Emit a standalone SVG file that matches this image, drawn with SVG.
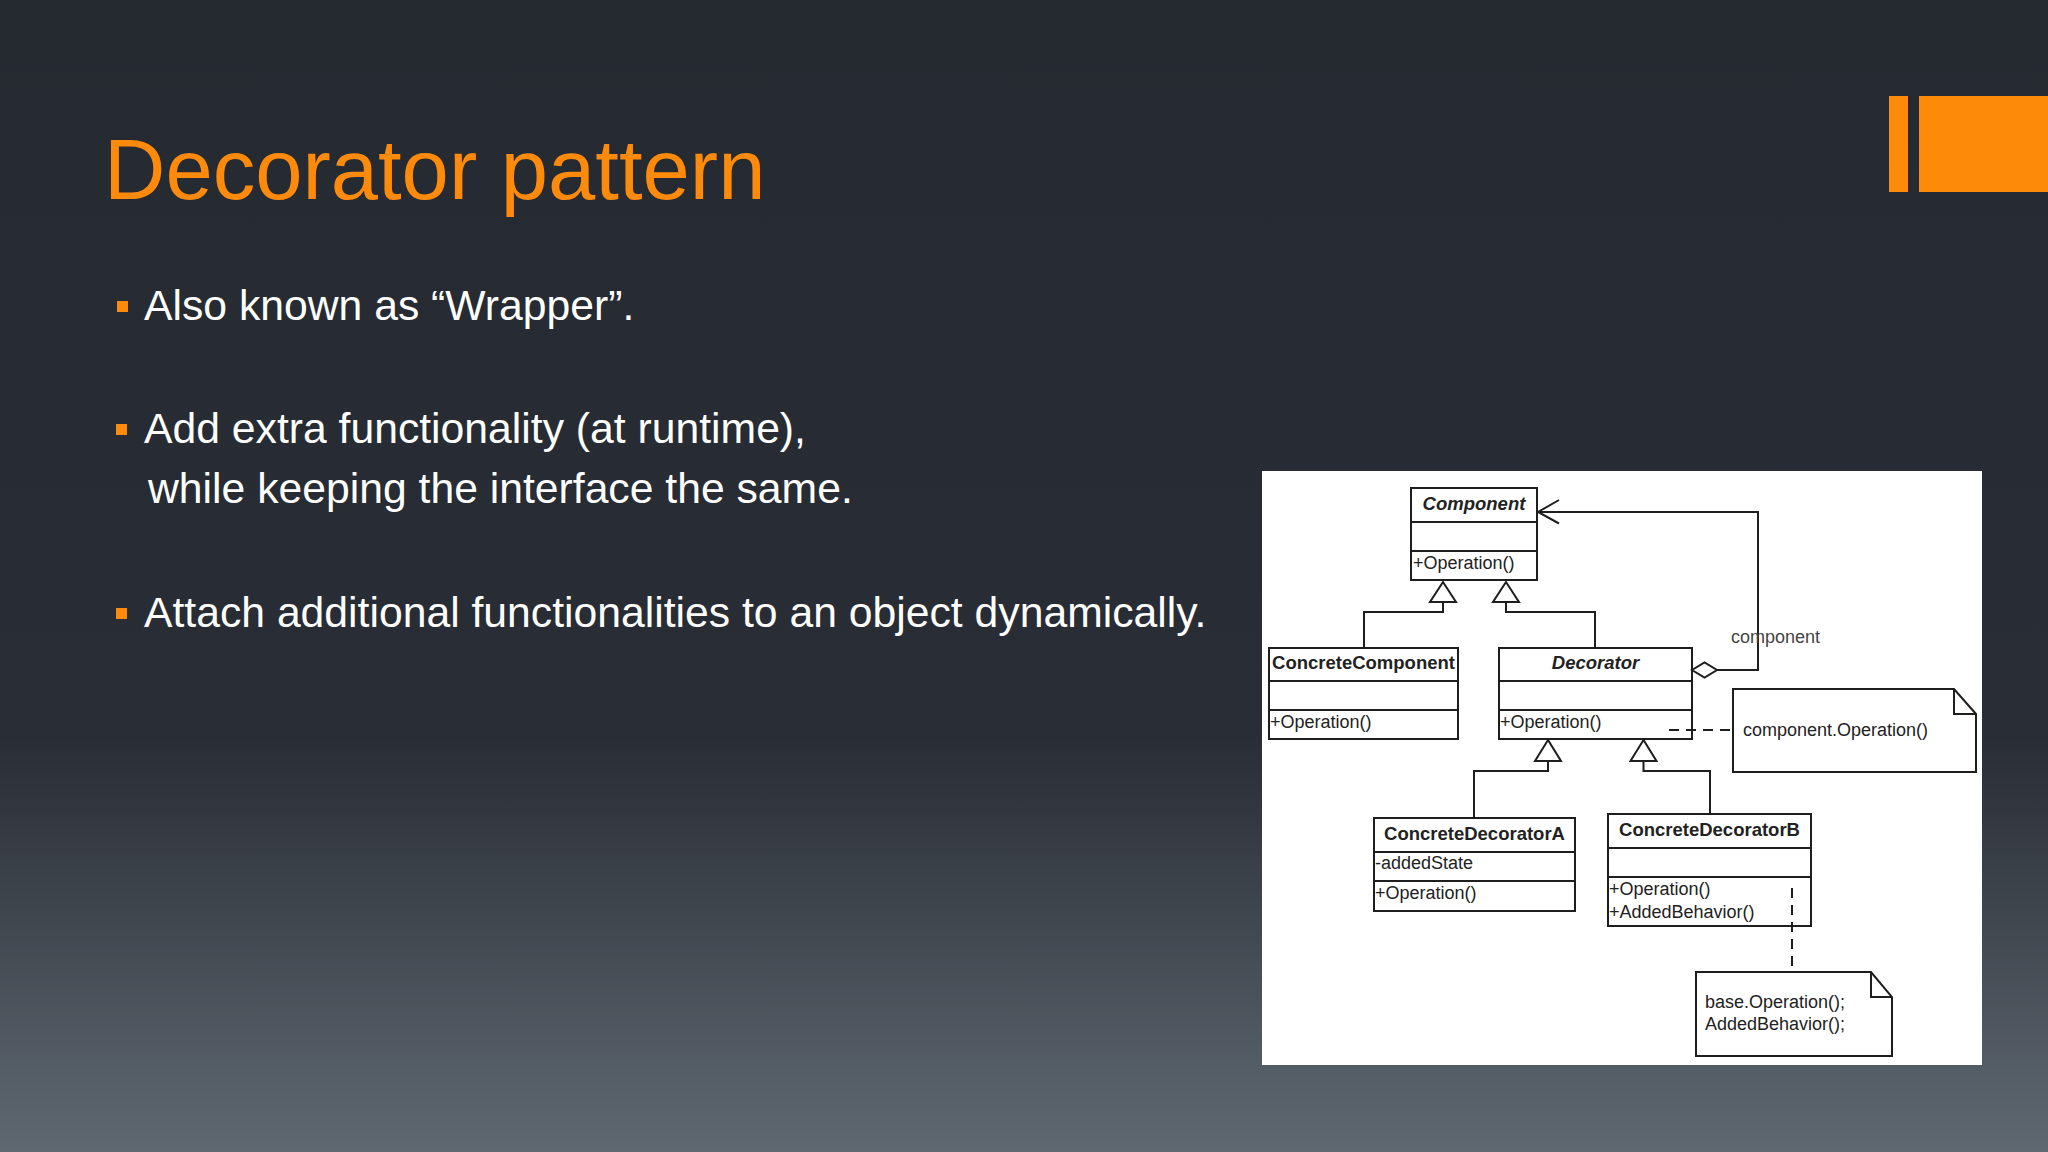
<svg xmlns="http://www.w3.org/2000/svg" width="2048" height="1152" viewBox="0 0 2048 1152">
<defs>
<linearGradient id="bg" x1="0" y1="0" x2="0" y2="1">
<stop offset="0" stop-color="#252930"/>
<stop offset="0.64" stop-color="#292d35"/>
<stop offset="1" stop-color="#5f6871"/>
</linearGradient>
<style>
.title{font-family:"Liberation Sans",Arial,sans-serif;font-size:85px;fill:#FE8A0C}
.bul{font-family:"Liberation Sans",Arial,sans-serif;font-size:42.7px;fill:#FFFFFF}
.bsq{fill:#FE8A0C}
.box{fill:#FFFFFF;stroke:#1e1e1e;stroke-width:2}
.div{stroke:#1e1e1e;stroke-width:2}
.ln{fill:none;stroke:#1e1e1e;stroke-width:2}
.dash{fill:none;stroke:#1e1e1e;stroke-width:2;stroke-dasharray:10 7}
.tri{fill:#FFFFFF;stroke:#1e1e1e;stroke-width:2}
.nm{font-family:"Liberation Sans",Arial,sans-serif;font-size:18.5px;font-weight:bold;fill:#222;text-anchor:middle}
.nmi{font-style:italic}
.op{font-family:"Liberation Sans",Arial,sans-serif;font-size:18px;fill:#222}
.lbl{font-family:"Liberation Sans",Arial,sans-serif;font-size:18px;fill:#444}
</style>
</defs>
<rect x="0" y="0" width="2048" height="1152" fill="url(#bg)"/>
<rect x="1889" y="96" width="19" height="96" fill="#FE8A0A"/>
<rect x="1919" y="96" width="129" height="96" fill="#FE8A0A"/>
<text class="title" x="104" y="199">Decorator pattern</text>
<rect class="bsq" x="117" y="301" width="11" height="11"/>
<text class="bul" x="144" y="320">Also known as “Wrapper”.</text>
<rect class="bsq" x="116" y="424" width="11" height="11"/>
<text class="bul" x="144" y="443">Add extra functionality (at runtime),</text>
<text class="bul" x="148" y="503">while keeping the interface the same.</text>
<rect class="bsq" x="116" y="608" width="11" height="11"/>
<text class="bul" x="144" y="627">Attach additional functionalities to an object dynamically.</text>

<rect x="1262" y="471" width="720" height="594" fill="#FFFFFF"/>

<g id="component">
<rect class="box" x="1411" y="488" width="126" height="92"/>
<line class="div" x1="1411" y1="522" x2="1537" y2="522"/>
<line class="div" x1="1411" y1="551" x2="1537" y2="551"/>
<text class="nm nmi" x="1474" y="510">Component</text>
<text class="op" x="1413" y="569">+Operation()</text>
</g>

<g id="concrete-component">
<rect class="box" x="1269" y="648" width="189" height="91"/>
<line class="div" x1="1269" y1="681" x2="1458" y2="681"/>
<line class="div" x1="1269" y1="710" x2="1458" y2="710"/>
<text class="nm" x="1363.5" y="669">ConcreteComponent</text>
<text class="op" x="1270" y="728">+Operation()</text>
</g>

<g id="decorator">
<rect class="box" x="1499" y="648" width="193" height="91"/>
<line class="div" x1="1499" y1="681" x2="1692" y2="681"/>
<line class="div" x1="1499" y1="710" x2="1692" y2="710"/>
<text class="nm nmi" x="1595.5" y="669">Decorator</text>
<text class="op" x="1500" y="728">+Operation()</text>
</g>

<g id="concrete-decorator-a">
<rect class="box" x="1374" y="818" width="201" height="93"/>
<line class="div" x1="1374" y1="852" x2="1575" y2="852"/>
<line class="div" x1="1374" y1="881" x2="1575" y2="881"/>
<text class="nm" x="1474.5" y="840">ConcreteDecoratorA</text>
<text class="op" x="1375" y="869">-addedState</text>
<text class="op" x="1375" y="899">+Operation()</text>
</g>

<g id="concrete-decorator-b">
<rect class="box" x="1608" y="814" width="203" height="112"/>
<line class="div" x1="1608" y1="848" x2="1811" y2="848"/>
<line class="div" x1="1608" y1="877" x2="1811" y2="877"/>
<text class="nm" x="1709.5" y="836">ConcreteDecoratorB</text>
<text class="op" x="1609" y="895">+Operation()</text>
<text class="op" x="1609" y="918">+AddedBehavior()</text>
</g>

<g id="note-component-operation">
<polygon class="box" points="1733,689 1954,689 1976,714 1976,772 1733,772"/>
<polyline class="ln" points="1954,689 1954,714 1976,714"/>
<text class="op" x="1743" y="736">component.Operation()</text>
</g>

<g id="note-base-operation">
<polygon class="box" points="1696,972 1871,972 1892,997 1892,1056 1696,1056"/>
<polyline class="ln" points="1871,972 1871,997 1892,997"/>
<text class="op" x="1705" y="1008">base.Operation();</text>
<text class="op" x="1705" y="1030">AddedBehavior();</text>
</g>

<g id="connectors">
<polyline class="ln" points="1443,602 1443,612 1364,612 1364,648"/>
<polyline class="ln" points="1506,602 1506,612 1595,612 1595,648"/>
<polyline class="ln" points="1548,761 1548,771 1474,771 1474,818"/>
<polyline class="ln" points="1643.5,761 1643.5,771 1710,771 1710,814"/>
<polyline class="ln" points="1717,670 1758,670 1758,512 1538,512"/>
<polyline class="ln" points="1559,500 1538,512 1559,523.5"/>
<polygon class="tri" points="1692,670 1704.5,662.5 1717,670 1704.5,677.5"/>
<polygon class="tri" points="1443,582 1430,602 1456,602"/>
<polygon class="tri" points="1506,582 1493,602 1519,602"/>
<polygon class="tri" points="1548,740 1535,761 1561,761"/>
<polygon class="tri" points="1643.5,740 1630.5,761 1656.5,761"/>
<line class="dash" x1="1669" y1="730" x2="1733" y2="730" stroke-dasharray="3 8 10 7"/>
<line class="dash" x1="1792" y1="888" x2="1792" y2="972"/>
<text class="lbl" x="1731" y="643">component</text>
</g>
</svg>
